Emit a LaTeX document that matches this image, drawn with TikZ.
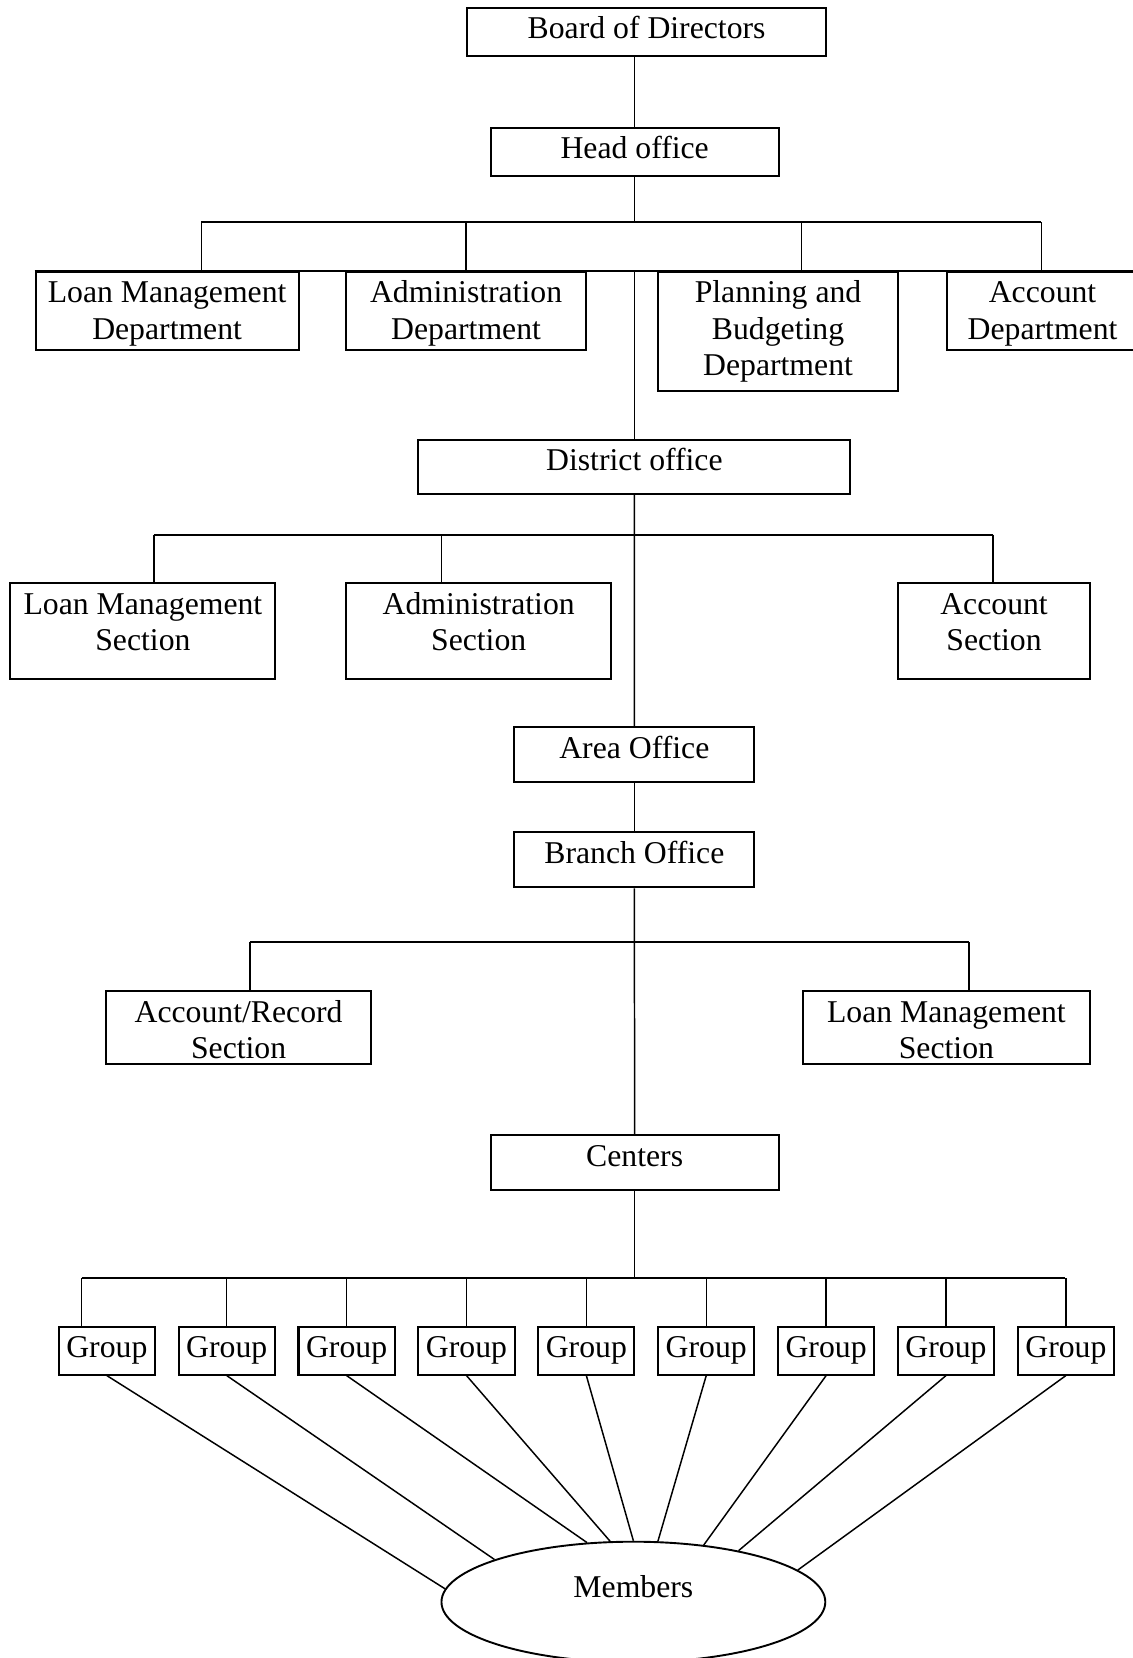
\documentclass[tikz,border=0pt]{standalone}
\usepackage{fontspec}
\setmainfont{Liberation Serif}
\usetikzlibrary{shapes.geometric}
\begin{document}
\begin{tikzpicture}[x=1pt,y=-1pt,
  font=\fontsize{30}{34.5}\selectfont,
  box/.style={draw, line width=1.9pt, anchor=north west, inner sep=0pt, align=center, minimum width=#1},
  boxline/.style={line width=1.9pt},
  conn/.style={line width=1.4pt},
  bus/.style={line width=2pt},
  memb/.style={draw, ellipse, line width=1.8pt, minimum width=363pt, minimum height=114pt, inner sep=0pt, text height=10pt, text depth=18pt}]
\useasboundingbox (0,0) rectangle (1071,1568);

% boxes (text height = distance from top to last baseline)
\node[box={340.1}, text height=29.3pt, text depth=16.4pt] (board) at (440.5,6.3) {Board of Directors};
\node[box={272.5}, text height=29.3pt, text depth=16.4pt] (head) at (463,119.7) {Head office};
\node[box={248.6}, text height=63.8pt, text depth=10.5pt] (ldept) at (32.8,255.9) {Loan Management\\Department};
\node[box={226.7}, text height=63.8pt, text depth=10.5pt] (admdept) at (326.5,255.9) {Administration\\Department};
\node[box={226.7}, text height=98.3pt, text depth=14.5pt] (pdept) at (621.5,255.9) {Planning and\\Budgeting\\Department};
\node[box={180.6}, text height=63.8pt, text depth=10.5pt] (acdept) at (894.7,255.9) {Account\\Department};
\node[box={408.4}, text height=29.3pt, text depth=22pt] (dist) at (394.8,415) {District office};
\node[box={250.6}, text height=63.8pt, text depth=26.9pt] (lsec) at (8.9,550.8) {Loan Management\\Section};
\node[box={250.5}, text height=63.8pt, text depth=26.9pt] (asec) at (326.5,550.8) {Administration\\Section};
\node[box={181.7}, text height=63.8pt, text depth=26.9pt] (acsec) at (848.3,550.8) {Account\\Section};
\node[box={226.7}, text height=29.3pt, text depth=22.7pt] (area) at (485.6,686.9) {Area Office};
\node[box={226.7}, text height=29.3pt, text depth=22.7pt] (branch) at (485.6,786.2) {Branch Office};
\node[box={250}, text height=63.8pt, text depth=4.8pt] (arsec) at (99.7,936.5) {Account/Record\\Section};
\node[box={271.9}, text height=63.8pt, text depth=4.8pt] (blsec) at (758.1,936.5) {Loan Management\\Section};
\node[box={272.5}, text height=29.3pt, text depth=23pt] (centers) at (463,1072.6) {Centers};
\foreach \i in {1,...,9}
  \node[box={91}, text height=29.3pt, text depth=15.7pt] (g\i) at ({54.6+113.37*(\i-1)},1254) {Group};
\node[memb] (mem) at (599,1515) {Members};

% head office level
\coordinate (hbl) at (190.5,210.2);
\coordinate (hbp) at (758,210.2);
\coordinate (hbr) at (984.8,210.2);
\draw[conn] (head.north) -- (head.north |- board.south);
\draw[conn] (head.south) -- (head.south |- hbl);
\draw[bus] (hbl) -- (hbr);
\draw[conn] (hbl) -- (hbl |- ldept.north);
\draw[conn] (admdept.north) -- (admdept.north |- hbl);
\draw[conn] (hbp) -- (hbp |- pdept.north);
\draw[conn] (hbr) -- (hbr |- acdept.north);
\draw[boxline] (ldept.north west) -- (acdept.north east);
\draw[conn] (dist.north) -- (dist.north |- ldept.north);

% district level
\coordinate (dbl) at (145.5,505.7);
\coordinate (dba) at (417.3,505.7);
\coordinate (dbr) at (939,505.7);
\draw[bus] (dbl) -- (dbr);
\draw[conn] (dbl) -- (dbl |- lsec.north);
\draw[conn] (dba) -- (dba |- asec.north);
\draw[conn] (dbr) -- (dbr |- acsec.north);
\draw[conn] (dist.south) -- (area.north);
\draw[conn] (area.south) -- (branch.north);

% branch level
\coordinate (bbl) at (236.3,891.1);
\coordinate (bbr) at (916.5,891.1);
\draw[bus] (bbl) -- (bbr);
\draw[conn] (bbl) -- (bbl |- arsec.north);
\draw[conn] (bbr) -- (bbr |- blsec.north);
\draw[conn] (branch.south) -- (centers.north);

% centers level
\coordinate (cbl) at (77.2,1208.7);
\coordinate (cbr) at (1007.4,1208.7);
\draw[conn] (centers.south) -- (centers.south |- cbl);
\draw[bus] (cbl) -- (cbr);
\draw[conn] (cbl) -- (cbl |- g1.north);
\foreach \i in {2,...,9}
  \draw[conn] (g\i.north) -- (g\i.north |- cbl);

% groups to members
\foreach \i/\a in {1/176.4,2/163.1,3/128.9,4/111.6,5/90,6/68.4,7/39.7,8/26.4,9/11.3}
  \draw[conn] (g\i.south) -- (mem.\a);
\end{tikzpicture}
\end{document}
